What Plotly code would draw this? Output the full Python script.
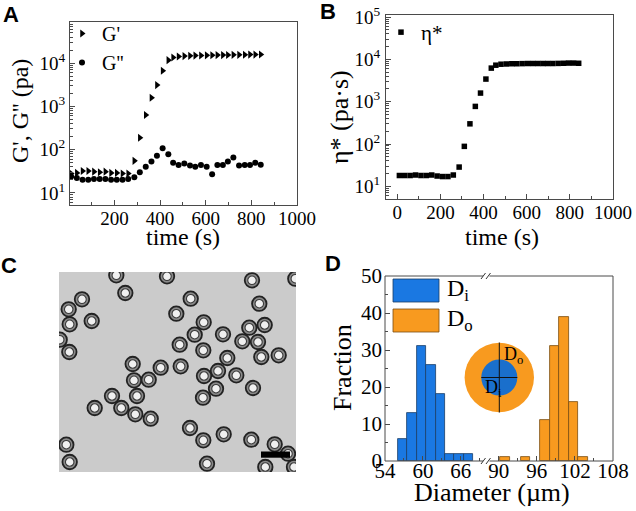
import plotly.graph_objects as go

W, H = 636, 511

# ---------------- data ----------------
time_s = [10, 35, 60, 85, 110, 135, 160, 185, 210, 235, 260, 287, 311, 337, 362, 386, 411, 436,
          457, 481, 506, 531, 554, 579, 604, 628, 651, 675, 697, 721, 746, 771, 794, 817, 841]
g_storage = [28, 29, 32, 32, 31, 30, 31, 29, 29, 28, 28, 55, 188, 630, 1580, 3100, 6640, 11700,
             13500, 14200, 14500, 14700, 14900, 15000, 15100, 15200, 15300, 15300, 15400, 15500,
             15500, 15600, 15700, 15700, 15800]
g_loss = [24, 22, 20, 20, 21, 21, 21, 20, 20, 20, 21, 23, 30, 40, 53, 72, 107, 78,
          50, 44, 48, 43, 40, 44, 40, 27, 44, 44, 53, 66, 43, 44, 44, 50, 45]
eta_star = [18, 18, 18, 18.5, 18, 18, 18.5, 17.5, 17, 17, 18.5, 28.5, 88, 300, 775, 1600, 3430, 6230,
            7300, 7700, 7800, 7900, 7900, 7950, 8000, 8000, 8000, 8000, 8000, 8000, 8050, 8100,
            8200, 8200, 8100]

di_center = [56.75, 58.25, 59.75, 61.25, 62.75, 64.25, 65.75, 67.25]
di_fraction = [6, 13, 31, 26, 18, 2, 2, 2]
do_center = [91.0, 94.25, 97.25, 98.75, 100.25, 101.75, 103.25]
do_fraction = [1, 1, 11, 31, 39, 16, 1]

# microcapsule centres in image pixel units (image 237 x 200)
cap_x = [57.3, 108, 193, 236.3, 23, 9.7, 66.3, 131.7, 200.3, 117.3, 10.7, 32.7, 144.7, 190.3, 205.7,
         135.7, 164, 120.7, 183.3, 199, 0.7, 144.3, 10.3, 168.3, 202.3, 219.7, 73.7, 101.7, 121.7,
         159, 145, 75, 89.7, 177.3, 194, 157, 78, 53, 144, 35.7, 62.3, 76.3, 91.7, 131, 164.7,
         144.3, 192.3, 215.7, 7.3, 229, 10.7, 148, 206.3, 235]
cap_y = [3.3, 4.3, 8.3, 6.7, 27.3, 37.3, 21, 26.7, 31.7, 41.7, 52.3, 49, 50.3, 55.7, 53,
         62.7, 62.3, 72.7, 69.3, 70, 67.7, 78.3, 80, 86, 85, 83.3, 92, 95.7, 94.3,
         99, 104, 108.3, 107.7, 103.3, 116, 116.7, 124, 124, 125.7, 136, 136, 142.3, 146.7, 156, 162.3,
         168.3, 167.7, 172.3, 172.7, 181.7, 190, 191.7, 195, 195]

a_ticks = [10, 100, 1000, 10000, 100000]
a_ticktext = ["10<sup>1</sup>", "10<sup>2</sup>", "10<sup>3</sup>", "10<sup>4</sup>", "10<sup>5</sup>"]

BLUE = "#1a78e2"
ORANGE = "#f89a1f"
SERIF = "Liberation Serif"
SANS = "Liberation Sans"
AX = "#4a4a4a"


def px(x):
    return x / W


def py(y):
    return 1 - y / H


fig = go.Figure()

# Panel A
fig.add_trace(go.Scatter(x=time_s, y=g_storage, mode="markers", name="G'",
                         marker=dict(symbol="triangle-right", size=7, color="black"),
                         xaxis="x", yaxis="y", legend="legend"))
fig.add_trace(go.Scatter(x=time_s, y=g_loss, mode="markers", name="G''",
                         marker=dict(symbol="circle", size=6, color="black"),
                         xaxis="x", yaxis="y", legend="legend"))
# Panel B
fig.add_trace(go.Scatter(x=time_s, y=eta_star, mode="markers", name="η*",
                         marker=dict(symbol="square", size=5.5, color="black"),
                         xaxis="x2", yaxis="y2", legend="legend2"))
# Panel C (micrograph drawn as capsules)
fig.add_trace(go.Scatter(x=cap_x, y=cap_y, mode="markers", showlegend=False, hoverinfo="skip",
                         marker=dict(symbol="circle", size=14.5, color="#8a8a8a",
                                     line=dict(color="#222222", width=1.8)),
                         xaxis="x3", yaxis="y3"))
fig.add_trace(go.Scatter(x=cap_x, y=cap_y, mode="markers", showlegend=False, hoverinfo="skip",
                         marker=dict(symbol="circle", size=8.5, color="#f0f0f0",
                                     line=dict(color="#3a3a3a", width=1.1)),
                         xaxis="x3", yaxis="y3"))
# Panel D
fig.add_trace(go.Bar(x=di_center, y=di_fraction, width=1.5, showlegend=False,
                     marker=dict(color=BLUE, line=dict(color="#1b3d66", width=0.8)),
                     xaxis="x4", yaxis="y4"))
fig.add_trace(go.Bar(x=do_center, y=do_fraction, width=1.5, showlegend=False,
                     marker=dict(color=ORANGE, line=dict(color="#7a4c12", width=0.8)),
                     xaxis="x5", yaxis="y4"))

tickfont = dict(family=SERIF, size=19, color="black")
dfont = dict(family=SERIF, size=21, color="black")
base = dict(ticks="inside", ticklen=5, tickwidth=1, tickcolor=AX, showgrid=False, zeroline=False,
            linecolor=AX, linewidth=1)
minor_x = dict(tickvals=[100, 300, 500, 700, 900], ticks="inside", ticklen=3, tickcolor=AX)
minor_log = dict(dtick="D1", ticks="inside", ticklen=2.5, tickcolor=AX)

fig.update_layout(
    width=W, height=H, margin=dict(l=0, r=0, t=0, b=0, autoexpand=False),
    paper_bgcolor="white", plot_bgcolor="white", bargap=0,
    xaxis=dict(domain=[px(70), px(297)], range=[5, 1000], anchor="y", showline=True, mirror=True,
               tickvals=[200, 400, 600, 800, 1000], minor=minor_x, tickfont=tickfont,
               ticklabelstandoff=-4, **base),
    yaxis=dict(domain=[py(205), py(22)], type="log", range=[0.72, 4.95], anchor="x", showline=True,
               mirror=True, tickvals=a_ticks, ticktext=a_ticktext, ticklabelstandoff=0,
               minor=minor_log, tickfont=tickfont, **base),
    xaxis2=dict(domain=[px(386), px(613)], range=[-52, 1000], anchor="y2", showline=True, mirror=True,
                tickvals=[0, 200, 400, 600, 800, 1000], minor=minor_x, tickfont=tickfont,
                ticklabelstandoff=-4, **base),
    yaxis2=dict(domain=[py(199), py(15)], type="log", range=[0.7, 5.05], anchor="x2", showline=True,
                mirror=True, tickvals=a_ticks, ticktext=a_ticktext, ticklabelstandoff=1,
                minor=minor_log, tickfont=tickfont, **base),
    xaxis3=dict(domain=[px(59), px(296)], range=[0, 237], anchor="y3", visible=False),
    yaxis3=dict(domain=[py(472), py(272)], range=[200, 0], anchor="x3", visible=False),
    xaxis4=dict(domain=[px(385), px(486)], range=[54, 70], anchor="y4", showline=False,
                tickvals=[54, 60, 66], tickfont=dfont, ticklabelstandoff=-5,
                minor=dict(tickvals=[57, 63, 69], ticks="inside", ticklen=3, tickcolor=AX), **base),
    xaxis5=dict(domain=[px(486), px(613)], range=[88, 108], anchor="y4", showline=False,
                tickvals=[90, 96, 102, 108], tickfont=dfont, ticklabelstandoff=-5,
                minor=dict(tickvals=[93, 99, 105], ticks="inside", ticklen=3, tickcolor=AX), **base),
    yaxis4=dict(domain=[py(461), py(276)], range=[0, 50], anchor="x4", showline=False,
                tickvals=[0, 10, 20, 30, 40, 50], tickfont=dfont, ticklabelstandoff=2,
                minor=dict(tickvals=[5, 15, 25, 35, 45], ticks="inside", ticklen=3, tickcolor=AX), **base),
    legend=dict(x=px(62), y=py(14), xanchor="left", yanchor="top", bgcolor="rgba(0,0,0,0)",
                font=dict(family=SERIF, size=20, color="black"), tracegroupgap=0),
    legend2=dict(x=px(381), y=py(12), xanchor="left", yanchor="top", bgcolor="rgba(0,0,0,0)",
                 font=dict(family=SERIF, size=21, color="black")),
)

shapes = []
# micrograph background
shapes.append(dict(type="rect", xref="x3", yref="y3", x0=0, x1=237, y0=0, y1=200,
                   fillcolor="#cbcbcb", line=dict(width=0), layer="below"))
# scale bar
shapes.append(dict(type="rect", xref="x3", yref="y3", x0=202, x1=231, y0=179.5, y1=185.7,
                   fillcolor="black", line=dict(width=0)))
# D frame
shapes.append(dict(type="rect", xref="paper", yref="paper", x0=px(385), x1=px(613), y0=py(461), y1=py(276),
                   line=dict(color=AX, width=1), fillcolor="rgba(0,0,0,0)"))
# axis break marks
for yy in (276, 461):
    shapes.append(dict(type="rect", xref="paper", yref="paper", x0=px(483), x1=px(489.5),
                       y0=py(yy + 2), y1=py(yy - 2), fillcolor="white", line=dict(width=0)))
    shapes.append(dict(type="line", xref="paper", yref="paper", x0=px(481), x1=px(485.5),
                       y0=py(yy + 3), y1=py(yy - 3), line=dict(color="#333", width=1)))
    shapes.append(dict(type="line", xref="paper", yref="paper", x0=px(486), x1=px(490.5),
                       y0=py(yy + 3), y1=py(yy - 3), line=dict(color="#333", width=1)))
# D legend patches
shapes.append(dict(type="rect", xref="paper", yref="paper", x0=px(393), x1=px(439), y0=py(302), y1=py(279),
                   fillcolor=BLUE, line=dict(color="#1b3d66", width=0.8)))
shapes.append(dict(type="rect", xref="paper", yref="paper", x0=px(393), x1=px(439), y0=py(332), y1=py(309),
                   fillcolor=ORANGE, line=dict(color="#7a4c12", width=0.8)))
# inset schematic
cx0, cy0 = 499.3, 377.5
for r, col in ((34.7, ORANGE), (18, "#1a6fcc")):
    shapes.append(dict(type="circle", xref="paper", yref="paper", x0=px(cx0 - r), x1=px(cx0 + r),
                       y0=py(cy0 + r), y1=py(cy0 - r), fillcolor=col, line=dict(width=0)))
shapes.append(dict(type="line", xref="paper", yref="paper", x0=px(cx0), x1=px(cx0),
                   y0=py(cy0 + 35), y1=py(cy0 - 35), line=dict(color="#111", width=1)))
shapes.append(dict(type="line", xref="paper", yref="paper", x0=px(cx0 - 18), x1=px(cx0 + 18),
                   y0=py(cy0), y1=py(cy0), line=dict(color="#111", width=1)))
fig.update_layout(shapes=shapes)

ann = []


def add_text(text, x, y, size, family=SERIF, angle=0, bold=False, xanchor="center"):
    ann.append(dict(text=f"<b>{text}</b>" if bold else text, x=px(x), y=py(y), xref="paper", yref="paper",
                    showarrow=False, textangle=angle, xanchor=xanchor, yanchor="middle",
                    font=dict(family=family, size=size, color="black")))


add_text("A", 11, 14, 22, family=SANS, bold=True)
add_text("B", 328, 11, 22, family=SANS, bold=True)
add_text("C", 9, 265, 22, family=SANS, bold=True)
add_text("D", 333, 263, 22, family=SANS, bold=True)
add_text("time (s)", 183, 237, 24)
add_text("G', G'' (pa)", 20, 111, 24, angle=-90)
add_text("time (s)", 502, 237, 24)
add_text("η* (pa·s)", 340, 117, 26, angle=-90)
add_text("Diameter (µm)", 492, 492, 26)
add_text("Fraction", 342, 368, 26, angle=-90)
add_text("D<sub>i</sub>", 445, 290, 24, xanchor="left")
add_text("D<sub>o</sub>", 445, 320, 24, xanchor="left")
add_text("D<sub>o</sub>", 502, 355, 18, xanchor="left")
add_text("D<sub>i</sub>", 483, 388, 18, xanchor="left")
fig.update_layout(annotations=ann)

# the page's default body margin would offset the 636x511 figure; remove it
fig.write_html("out.html", config={"displayModeBar": False},
               post_script="document.body.style.margin='0px';")
